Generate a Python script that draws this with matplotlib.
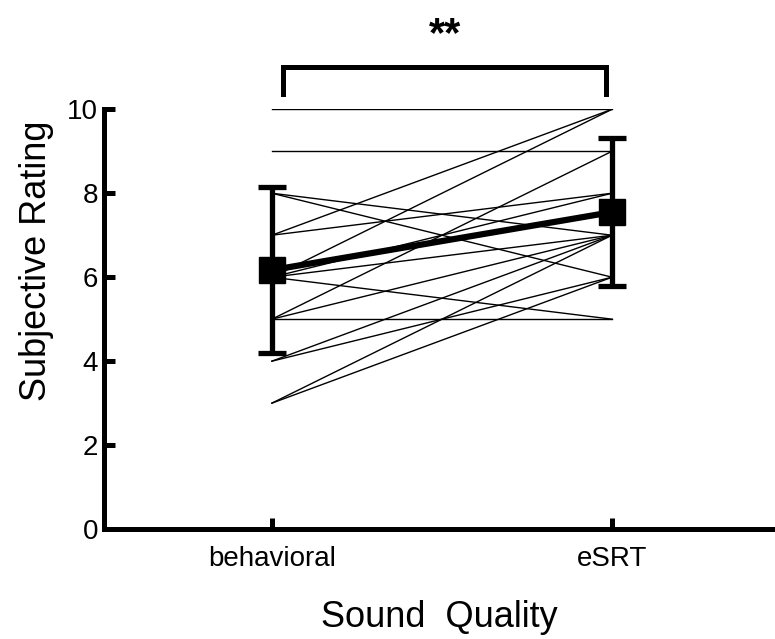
import matplotlib
matplotlib.use('Agg')
import matplotlib.pyplot as plt
import numpy as np

plt.rcParams['font.family'] = ['Liberation Sans', 'DejaVu Sans']

conditions = ['behavioral', 'eSRT']

# one rating pair per subject
behavioral = [10, 9, 8, 8, 7, 7, 6, 6, 6, 6, 5, 5, 5, 4, 4, 3, 3]
esrt       = [10, 9, 7, 6, 10, 8, 10, 8, 7, 5, 5, 7, 9, 7, 6, 7, 6]

# group mean and SD shown by the markers / error bars
means = [6.17, 7.55]
sds = [1.97, 1.76]

yticks = [0, 2, 4, 6, 8, 10]

fig = plt.figure(figsize=(7.75, 6.39), dpi=100)
ax = fig.add_axes([0.134, 0.172, 0.866, 0.657])

xs = np.arange(len(conditions))

for b, e in zip(behavioral, esrt):
    ax.plot(xs, [b, e], color='black', lw=1.0, zorder=2)

ax.plot(xs, means, color='black', lw=4.5, zorder=3)
ax.errorbar(xs, means, yerr=sds, fmt='s', color='black', ms=19,
            elinewidth=3.8, capsize=10, capthick=3.8, zorder=4)

ax.set_xlim(-0.494, 1.479)
ax.set_ylim(0, 10)
ax.set_xticks(xs)
ax.set_xticklabels(conditions, fontsize=20)
ax.set_yticks(yticks)
ax.set_yticklabels([str(t) for t in yticks], fontsize=20)

for s in ['top', 'right']:
    ax.spines[s].set_visible(False)
for s in ['left', 'bottom']:
    ax.spines[s].set_linewidth(3.6)
ax.tick_params(direction='in', length=8, width=3.6, pad=4)
ax.tick_params(axis='x', pad=12)

ax.set_xlabel('Sound  Quality', fontsize=26, labelpad=20)
ax.set_ylabel('Subjective Rating', fontsize=26)
ax.yaxis.set_label_coords(-0.075, 0.64)

# significance bracket
ax.plot([0.032, 0.032, 0.982, 0.982], [10.36, 11.0, 11.0, 10.36],
        color='black', lw=3.6, clip_on=False, solid_joinstyle='miter')
ax.text(0.51, 11.3, '**', ha='center', va='bottom', fontsize=30,
        fontweight='bold')

plt.savefig('out.png', dpi=100)
